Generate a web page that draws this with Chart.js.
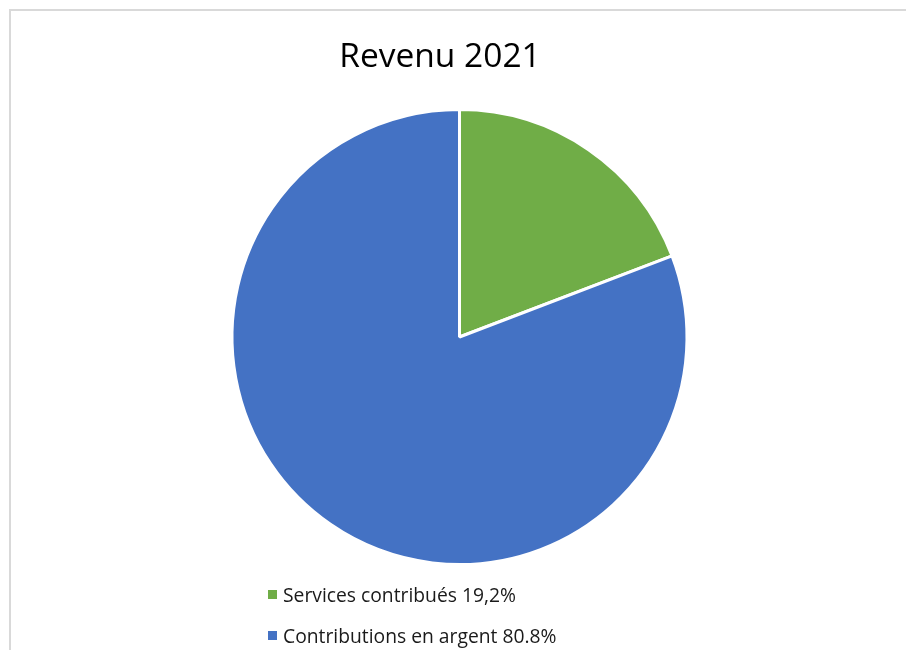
<!DOCTYPE html>
<html>
<head>
<meta charset="utf-8">
<script src="https://cdn.jsdelivr.net/npm/chart.js@4"></script>
<style>
html,body{margin:0;padding:0;background:#fff;}
#wrap{position:relative;width:906px;height:650px;}
canvas{display:block;}
</style>
</head>
<body>
<div id="wrap"><canvas id="c" width="906" height="650"></canvas></div>
<script>
const chartTitle = "Revenu 2021";
const categories = ["Services contribués 19,2%", "Contributions en argent 80.8%"];
const values = [19.2, 80.8];
const colors = ["#70AD47", "#4472C4"];

const decorPlugin = {
  id: 'decor',
  beforeDraw(chart) {
    const ctx = chart.ctx;
    ctx.save();
    ctx.fillStyle = '#ffffff';
    ctx.fillRect(0, 0, chart.width, chart.height);
    ctx.strokeStyle = '#d9d9d9';
    ctx.lineWidth = 2;
    ctx.beginPath();
    ctx.moveTo(10, chart.height);
    ctx.lineTo(10, 10);
    ctx.lineTo(chart.width, 10);
    ctx.stroke();
    ctx.restore();
  },
  afterDraw(chart) {
    const ctx = chart.ctx;
    ctx.save();
    ctx.fillStyle = '#000000';
    ctx.font = '33.5px "Open Sans"';
    ctx.textAlign = 'center';
    ctx.textBaseline = 'alphabetic';
    ctx.fillText(chartTitle, 440, 67);
    ctx.textAlign = 'left';
    ctx.font = '19.3px "Open Sans"';
    const labels = chart.data.labels;
    const bg = chart.data.datasets[0].backgroundColor;
    labels.forEach((lab, i) => {
      const base = 602 + i * 41;
      ctx.fillStyle = bg[i];
      ctx.fillRect(268, base - 12, 9, 9);
      ctx.fillStyle = '#1a1a1a';
      ctx.fillText(lab, 283, base);
    });
    ctx.restore();
  }
};

new Chart(document.getElementById('c'), {
  type: 'pie',
  data: {
    labels: categories,
    datasets: [{
      data: values,
      backgroundColor: colors,
      borderColor: '#ffffff',
      borderWidth: 3,
      hoverOffset: 0
    }]
  },
  options: {
    responsive: false,
    animation: false,
    layout: { padding: { top: 108, bottom: 84, left: 230, right: 217 } },
    plugins: {
      legend: { display: false },
      title: { display: false },
      tooltip: { enabled: false }
    },
    events: []
  },
  plugins: [decorPlugin]
});
</script>
</body>
</html>
